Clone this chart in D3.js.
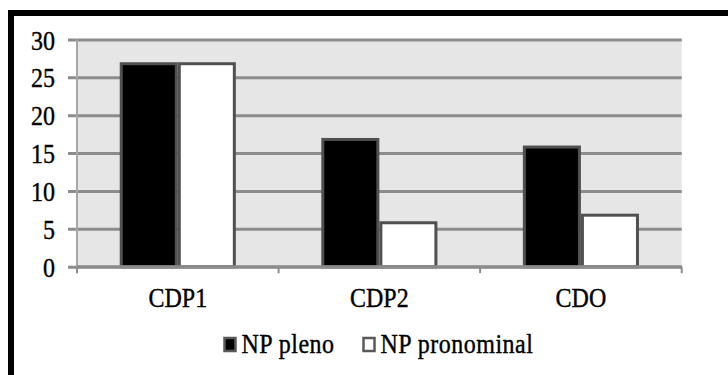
<!DOCTYPE html>
<html>
<head>
<meta charset="utf-8">
<script src="https://cdn.jsdelivr.net/npm/d3@7"></script>
<style>
  html, body { margin: 0; padding: 0; background: #fff; }
  svg { display: block; }
  text { font-family: "Liberation Serif", "Times New Roman", serif; fill: #000; stroke: #000; stroke-width: 0.35px; }
</style>
</head>
<body>
<svg id="chart" width="728" height="375"></svg>
<script>
// Counts per construction type, split by NP type
const categories = ["CDP1", "CDP2", "CDO"];
const seriesNames = ["NP pleno", "NP pronominal"];
const npPleno = [27, 17, 16];
const npPronominal = [27, 6, 7];
const yTicks = [0, 5, 10, 15, 20, 25, 30];

const fills = ["#000000", "#ffffff"];
const FONT = 24;
const STRETCH = 1.15;

const svg = d3.select("#chart");

// Frame around the whole chart
svg.append("rect")
  .attr("x", 11).attr("y", 13)
  .attr("width", 800).attr("height", 400)
  .attr("fill", "#fff")
  .attr("stroke", "#000")
  .attr("stroke-width", 6);

const plot = { left: 77, right: 681.7, top: 39.5, bottom: 266.7 };

const y = d3.scaleLinear().domain([0, 30]).range([plot.bottom, plot.top]);
const x0 = d3.scaleBand()
  .domain(categories)
  .range([plot.left, plot.right])
  .paddingInner(0.424)
  .paddingOuter(0.212);
const x1 = d3.scaleBand()
  .domain(seriesNames)
  .range([0, x0.bandwidth()]);

// Plot background
svg.append("rect")
  .attr("x", plot.left).attr("y", plot.top)
  .attr("width", plot.right - plot.left)
  .attr("height", plot.bottom - plot.top)
  .attr("fill", "#e6e6e6");

// Horizontal gridlines with tick labels
const tickStart = 68;
const yAxis = svg.append("g")
  .attr("transform", `translate(${tickStart},0)`)
  .call(d3.axisLeft(y)
    .tickValues(yTicks)
    .tickSize(-(plot.right - tickStart))
    .tickPadding(13)
    .tickFormat(d3.format("d")));
yAxis.attr("font-family", null).attr("font-size", null);
yAxis.select(".domain").remove();
yAxis.selectAll(".tick line")
  .attr("stroke", "#8c8c8c")
  .attr("stroke-width", 3);
yAxis.selectAll(".tick text")
  .attr("x", null).attr("dy", null)
  .attr("font-size", FONT)
  .attr("text-anchor", "end")
  .attr("transform", `translate(-13,9.5) scale(1,${STRETCH})`);

// Vertical axis line
svg.append("line")
  .attr("x1", plot.left).attr("x2", plot.left)
  .attr("y1", plot.top).attr("y2", plot.bottom + 4)
  .attr("stroke", "#a6a6a6")
  .attr("stroke-width", 2);

// Bars
const data = categories.map((c, i) => ({ cat: c, values: [npPleno[i], npPronominal[i]] }));
const groups = svg.append("g").selectAll("g")
  .data(data)
  .join("g")
  .attr("transform", d => `translate(${x0(d.cat)},0)`);
groups.selectAll("rect")
  .data(d => d.values.map((v, j) => ({ key: seriesNames[j], value: v, j })))
  .join("rect")
  .attr("x", d => x1(d.key) + 1.5)
  .attr("width", x1.bandwidth() - 3)
  .attr("y", d => y(d.value) + 1.5)
  .attr("height", d => y(0) - y(d.value) - 1.5)
  .attr("fill", d => fills[d.j])
  .attr("stroke", "#505050")
  .attr("stroke-width", 3);

// Category axis along the bottom
const boundaries = [plot.left].concat(categories.map(c => x0(c) + x0.bandwidth() + x0.step() * x0.paddingInner() / 2));
const xAxisG = svg.append("g");
xAxisG.append("line")
  .attr("x1", plot.left).attr("x2", plot.right)
  .attr("y1", plot.bottom).attr("y2", plot.bottom)
  .attr("stroke", "#8c8c8c").attr("stroke-width", 3);
xAxisG.selectAll(".btick")
  .data(boundaries)
  .join("line")
  .attr("x1", d => d).attr("x2", d => d)
  .attr("y1", plot.bottom).attr("y2", plot.bottom + 6.5)
  .attr("stroke", "#8c8c8c").attr("stroke-width", 2);

const xAxis = svg.append("g")
  .attr("transform", `translate(0,${plot.bottom})`)
  .call(d3.axisBottom(x0).tickSize(0).tickPadding(0));
xAxis.attr("font-family", null).attr("font-size", null);
xAxis.select(".domain").remove();
xAxis.selectAll(".tick text")
  .attr("y", null).attr("dy", null)
  .attr("font-size", FONT)
  .attr("transform", `translate(0,${307 - plot.bottom}) scale(1,${STRETCH})`);

// Legend
const legendItems = [
  { name: seriesNames[0], fill: fills[0], x: 224 },
  { name: seriesNames[1], fill: fills[1], x: 363 }
];
const legend = svg.append("g");
const li = legend.selectAll("g")
  .data(legendItems)
  .join("g")
  .attr("transform", d => `translate(${d.x},0)`);
li.append("rect")
  .attr("x", 0.5).attr("y", 338)
  .attr("width", 11).attr("height", 13)
  .attr("fill", d => d.fill)
  .attr("stroke", "#5a5a5a")
  .attr("stroke-width", 2.5);
li.append("text")
  .attr("font-size", FONT)
  .attr("letter-spacing", 0.5)
  .attr("transform", `translate(17.5,353) scale(1,${STRETCH})`)
  .text(d => d.name);
</script>
</body>
</html>
